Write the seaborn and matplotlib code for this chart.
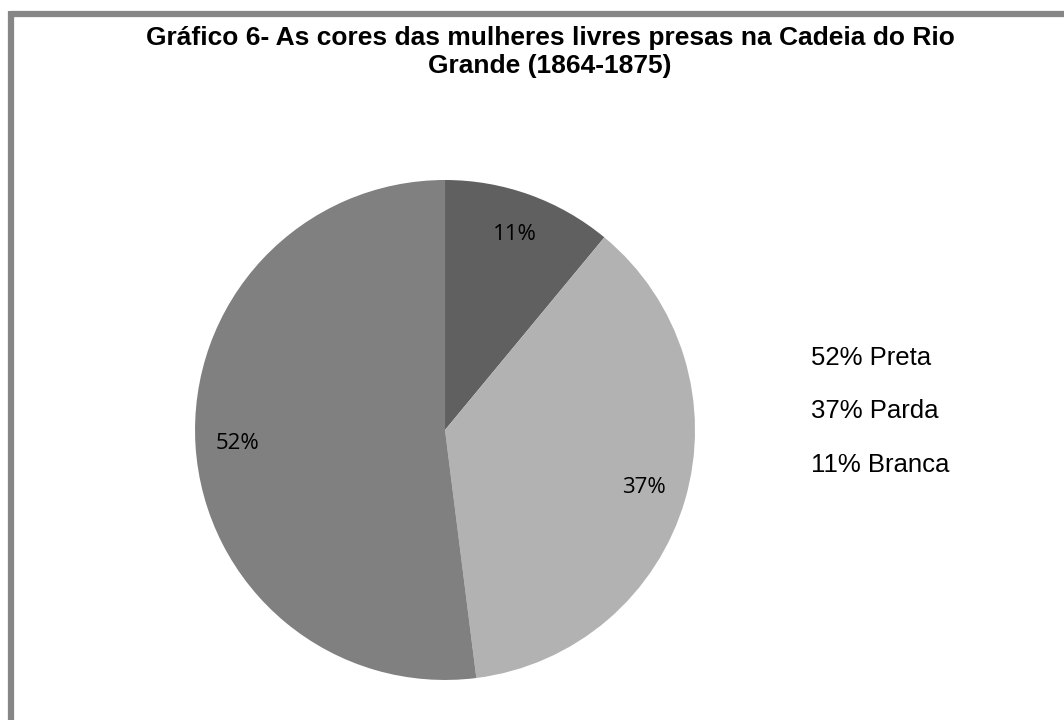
import matplotlib
matplotlib.use("Agg")
import matplotlib.pyplot as plt
from matplotlib.lines import Line2D
import seaborn as sns

# Colour of free women held in the Rio Grande jail, 1864-1875 (%)
categories = ["Branca", "Parda", "Preta"]
shares = [11, 37, 52]
colors = ["#606060", "#b2b2b2", "#808080"]
legend_order = ["Preta", "Parda", "Branca"]

title = "Gráfico 6- As cores das mulheres livres presas na Cadeia do Rio\nGrande (1864-1875)"

sns.set_theme(style="white")
plt.rcParams["font.family"] = ["Liberation Sans", "DejaVu Sans"]
plt.rcParams["text.color"] = "black"

fig = plt.figure(figsize=(10.64, 7.2), dpi=100)
fig.patch.set_facecolor("white")

ax = fig.add_axes([0.1833, 0.0556, 0.4699, 0.6944])
wedges, _, autotexts = ax.pie(
    shares,
    colors=colors,
    startangle=90,
    counterclock=False,
    autopct=lambda p: f"{p:.0f}%",
    pctdistance=0.83,
    wedgeprops=dict(linewidth=0),
    textprops=dict(family="Open Sans", fontsize=16, color="black"),
)
ax.set_xlim(-1, 1)
ax.set_ylim(-1, 1)
ax.set_aspect("equal")
ax.axis("off")

fig.text(0.517, 0.964, title, ha="center", va="top", fontsize=19,
         fontweight="bold", linespacing=1.2, color="black")

# Text-only legend
lookup = dict(zip(categories, shares))
for i, name in enumerate(legend_order):
    fig.text(0.762, 0.503 - i * 0.0745, f"{lookup[name]}% {name}",
             ha="left", va="center", fontsize=18.5, color="black")

# Grey frame along the top and left edges
fig.add_artist(Line2D([10.5 / 1064, 1.0], [1 - 13.5 / 720, 1 - 13.5 / 720],
                      transform=fig.transFigure, color="#868686", linewidth=4.5,
                      solid_capstyle="butt"))
fig.add_artist(Line2D([10.5 / 1064, 10.5 / 1064], [0.0, 1 - 11 / 720],
                      transform=fig.transFigure, color="#868686", linewidth=4.5,
                      solid_capstyle="butt"))

fig.savefig("out.png", dpi=100, facecolor="white")
